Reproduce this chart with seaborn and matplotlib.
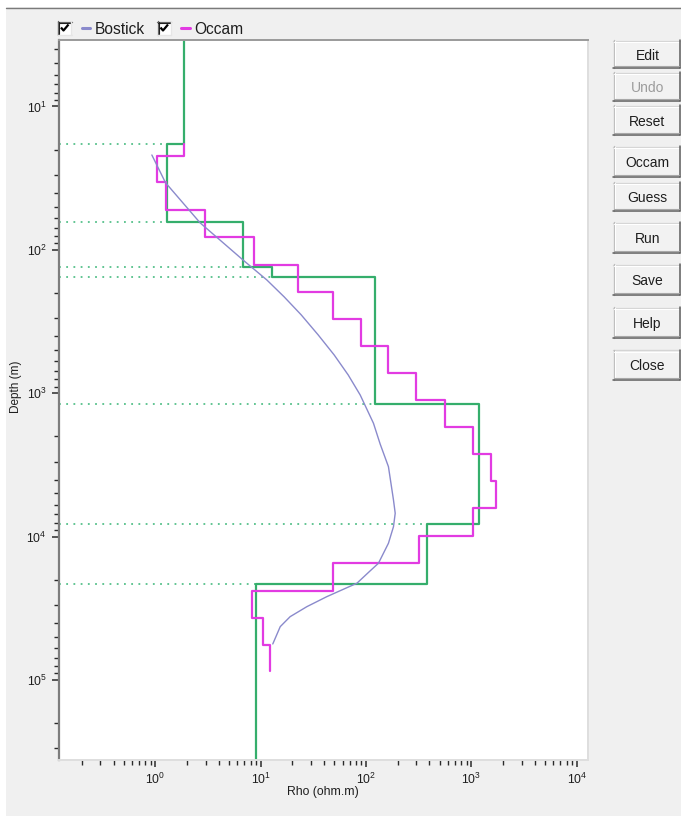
import numpy as np
import pandas as pd
import matplotlib
matplotlib.use("Agg")
import matplotlib.pyplot as plt
from matplotlib.patches import Rectangle
from matplotlib.lines import Line2D
from matplotlib.ticker import LogLocator, FuncFormatter, NullFormatter
import seaborn as sns

# ---------------------------------------------------------------- data
# axis extents
rho_range = (0.12, 1.28e4)        # ohm.m
depth_range = (3.44, 3.61e5)      # m

# layered model (green): resistivity of each layer and the interface depths
model_rho = [1.87, 1.28, 6.85, 12.7, 122, 1168, 378, 8.98]
model_interfaces = [18.3, 63.6, 132, 154, 1182, 8120, 21300]

# Occam smooth inversion (magenta): layer resistivities and layer boundaries
occam_rho = [1.87, 1.04, 1.26, 2.96, 8.69, 22.5, 48.0, 90.4, 162, 299,
             564, 1033, 1542, 1694, 1033, 315, 48.0, 8.20, 10.4, 12.3]
occam_depth = [18.3, 22.0, 33.8, 52.7, 81.9, 127, 196, 303, 468, 722, 1119,
               1718, 2650, 4090, 6340, 9840, 15200, 23800, 36700, 56900, 86000]

# Bostick transform of the sounding curve
bostick_rho = [0.924, 1.245, 2.66, 6.81, 11.4, 16.7, 24.2, 35.1, 49.8, 67.6,
               87.9, 117.5, 136, 163, 182, 189, 182, 163, 131, 109, 81.8,
               42.4, 27.4, 19.0, 15.3, 13.0]
bostick_depth = [21.8, 34.0, 64.9, 118, 162, 213, 284, 392, 541, 745, 1028,
                 1619, 2259, 3250, 5550, 6870, 8520, 11120, 15330, 17350,
                 21130, 26200, 30770, 36140, 42420, 56020]

series_names = ["Bostick", "Occam"]
button_labels = ["Edit", "Undo", "Reset", "Occam", "Guess", "Run", "Save",
                 "Help", "Close"]
button_enabled = [True, False, True, True, True, True, True, True, True]

# ---------------------------------------------------------------- style
GREEN = "#35AE6C"
DOT_GREEN = "#55C08A"
MAGENTA = "#E23BE2"
LAVENDER = "#8A8ACC"
PANEL = "#F0F0F0"
TEXT = "#1E1E1E"

sns.set_style("white")
plt.rcParams["font.family"] = ["Liberation Sans", "DejaVu Sans"]
plt.rcParams["mathtext.fontset"] = "custom"
plt.rcParams["mathtext.rm"] = "Liberation Sans"

W, H = 681, 816
fig = plt.figure(figsize=(W / 100, H / 100), dpi=100, facecolor=PANEL)


def fx(x):
    return x / W


def fy(y):
    return 1 - y / H


# plot frame in pixels (left, top, right, bottom)
L, T, R, B = 58.5, 40, 588, 760
ax = fig.add_axes([fx(L), fy(B), (R - L) / W, (B - T) / H])
ax.set_facecolor("white")
ax.set_xscale("log")
ax.set_yscale("log")


def step_table(rho, tops, bottoms):
    xs, ys = [], []
    for r, t, b in zip(rho, tops, bottoms):
        xs += [r, r]
        ys += [t, b]
    return pd.DataFrame({"rho": xs, "depth": ys})


model_tops = [depth_range[0]] + model_interfaces
model_bottoms = model_interfaces + [depth_range[1]]
model_df = step_table(model_rho, model_tops, model_bottoms)
occam_df = step_table(occam_rho, occam_depth[:-1], occam_depth[1:])
bostick_df = pd.DataFrame({"rho": bostick_rho, "depth": bostick_depth})

# dotted guides at each model interface, running in from the left edge
for i, d in enumerate(model_interfaces):
    ax.hlines(d, rho_range[0], min(model_rho[i], model_rho[i + 1]),
              colors=DOT_GREEN, linestyles=(0, (1, 3)), linewidth=1.3,
              zorder=1)

sns.lineplot(data=model_df, x="rho", y="depth", sort=False, estimator=None,
             color=GREEN, linewidth=1.6, legend=False, ax=ax, zorder=2)
sns.lineplot(data=occam_df, x="rho", y="depth", sort=False, estimator=None,
             color=MAGENTA, linewidth=1.6, legend=False, ax=ax, zorder=3)
sns.lineplot(data=bostick_df, x="rho", y="depth", sort=False, estimator=None,
             color=LAVENDER, linewidth=1.0, legend=False, ax=ax, zorder=4)

ax.set_xlim(*rho_range)
ax.set_ylim(depth_range[1], depth_range[0])

dec_fmt = FuncFormatter(
    lambda v, pos: r"$\mathregular{10^{%d}}$" % int(round(np.log10(v))))
for axis in (ax.xaxis, ax.yaxis):
    axis.set_major_locator(LogLocator(base=10, numticks=20))
    axis.set_minor_locator(LogLocator(base=10, subs=np.arange(2, 10),
                                      numticks=50))
    axis.set_major_formatter(dec_fmt)
    axis.set_minor_formatter(NullFormatter())

ax.tick_params(which="both", direction="out", color="#2a2a2a",
               labelcolor=TEXT, labelsize=8.8, top=False, right=False,
               bottom=True, left=True)
ax.tick_params(which="major", length=5, width=1.1, pad=3.5)
ax.tick_params(which="minor", length=3.5, width=1.0)

ax.set_xlabel("Rho (ohm.m)", fontsize=8.8, color=TEXT)
ax.set_ylabel("Depth (m)", fontsize=8.5, color=TEXT)
ax.xaxis.set_label_coords(0.5, (B - 786) / (B - T))
ax.yaxis.set_label_coords((22.5 - L) / (R - L), (B - 387) / (B - T))

ax.spines["left"].set_color("#7d7d7d")
ax.spines["left"].set_linewidth(1.6)
ax.spines["top"].set_color("#9a9a9a")
ax.spines["top"].set_linewidth(1.4)
ax.spines["right"].set_color("#dedede")
ax.spines["right"].set_linewidth(1.4)
ax.spines["bottom"].set_color("#dedede")
ax.spines["bottom"].set_linewidth(1.4)

# ---------------------------------------------------------------- window chrome
fig.patches.append(Rectangle((0, fy(7)), 1, 7 / H, transform=fig.transFigure,
                             facecolor="white", edgecolor="none", zorder=0))
fig.patches.append(Rectangle((0, 0), fx(6), 1, transform=fig.transFigure,
                             facecolor="white", edgecolor="none", zorder=0))
fig.lines.append(Line2D([fx(6), 1], [fy(7.5), fy(7.5)],
                        transform=fig.transFigure, color="#7a7a7a", lw=1.0))


def hline(x0, x1, y, color, lw=0.75):
    fig.lines.append(Line2D([fx(x0), fx(x1)], [fy(y), fy(y)],
                            transform=fig.transFigure, color=color, lw=lw))


def vline(x, y0, y1, color, lw=0.75):
    fig.lines.append(Line2D([fx(x), fx(x)], [fy(y0), fy(y1)],
                            transform=fig.transFigure, color=color, lw=lw))


def checkbox(x, y, size=14):
    fig.patches.append(Rectangle((fx(x), fy(y + size)), size / W, size / H,
                                 transform=fig.transFigure,
                                 facecolor="white", edgecolor="none"))
    hline(x, x + size, y + 0.5, "#6a6a6a", 1.0)
    vline(x + 0.5, y, y + size, "#6a6a6a", 1.0)
    hline(x + 1, x + size - 1, y + 1.6, "#202020", 0.8)
    vline(x + 1.6, y + 1, y + size - 1, "#202020", 0.8)
    hline(x, x + size, y + size - 0.5, "#e6e6e6", 1.0)
    vline(x + size - 0.5, y, y + size, "#e6e6e6", 1.0)
    fig.lines.append(Line2D([fx(x + 3.5), fx(x + 6), fx(x + 11)],
                            [fy(y + 6.5), fy(y + 9.5), fy(y + 3.5)],
                            transform=fig.transFigure, color="black",
                            lw=1.6, solid_capstyle="butt"))


# legend row
legend_colors = [LAVENDER, MAGENTA]
legend_box_x = [57.5, 157]
for name, col, bx in zip(series_names, legend_colors, legend_box_x):
    checkbox(bx, 21)
    hline(bx + 24, bx + 32.5, 28, col, 2.2)
    fig.text(fx(bx + 37), fy(28), name, fontsize=11.2, color=TEXT,
             ha="left", va="center_baseline")

# buttons
btn_top = [40, 72, 105, 146, 182, 222, 264, 307, 350]
btn_bot = [68, 101, 135, 177, 211, 253, 295, 338, 380]
BX0, BX1 = 613, 680
for label, on, t, b in zip(button_labels, button_enabled, btn_top, btn_bot):
    fig.patches.append(Rectangle((fx(BX0), fy(b)), (BX1 - BX0) / W,
                                 (b - t) / H, transform=fig.transFigure,
                                 facecolor="#F2F2F2", edgecolor="none"))
    hline(BX0, BX1, t + 0.5, "#d4d4d4", 1.0)
    vline(BX0 + 0.5, t, b, "#bcbcbc", 1.0)
    hline(BX0 + 1, BX1 - 1, t + 1.5, "white", 0.8)
    vline(BX0 + 1.5, t + 1, b - 1, "white", 0.8)
    hline(BX0, BX1, b - 0.5, "#5e5e5e", 1.1)
    vline(BX1 - 0.5, t, b, "#5e5e5e", 1.1)
    hline(BX0 + 1, BX1 - 1, b - 1.6, "#a8a8a8", 0.8)
    fig.text(fx((BX0 + BX1) / 2 + 1), fy((t + b) / 2), label, fontsize=10,
             color=TEXT if on else "#9c9c9c", ha="center",
             va="center_baseline")

fig.savefig("out.png", dpi=100, facecolor=PANEL)
